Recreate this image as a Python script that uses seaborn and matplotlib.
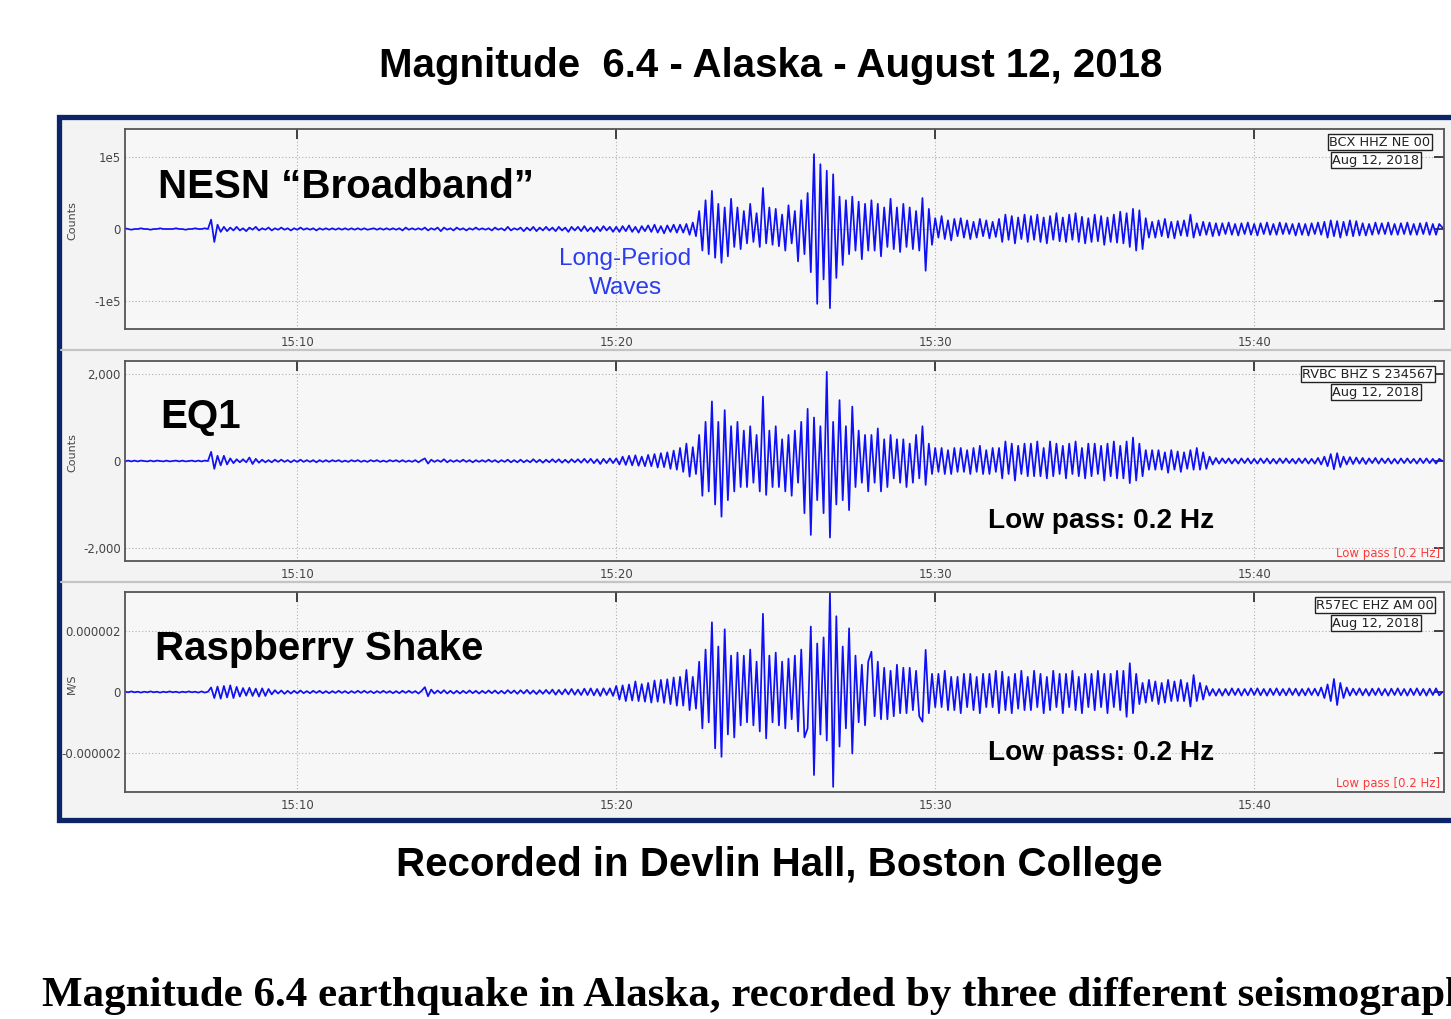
import numpy as np
import pandas as pd
import matplotlib
matplotlib.use("Agg")
import matplotlib.pyplot as plt
import seaborn as sns
from matplotlib.patches import Rectangle
from matplotlib.lines import Line2D
from matplotlib.transforms import Bbox, TransformedBbox

# ---------------- data ----------------
# samples every 0.1 min starting at 15:04.0, one row per minute
start_minute = 4.0
step_minute = 0.1

# NESN broadband, thousands of counts
nesn_kcounts = [
    0, 0, 0, 0, 0, 0, 1, 0, -1, 0,
    0, 1, 0, 0, -1, 0, 0, 1, 0, 0,
    0, 0, 1, 0, 0, -1, 0, 0, 1, 0,
    0, 1, 0, 13, -18, 6, -4, 3, -3, 2,
    -2, 3, -2, 1, -3, 2, -1, 3, -2, 1,
    -1, 2, -2, 1, -1, 2, -1, 1, -2, 1,
    -1, 2, -1, 1, -1, 1, -2, 1, -1, 1,
    -1, 1, -1, 1, -1, 1, -1, 1, -1, 1,
    -1, 1, -1, 0, 1, -1, 1, -1, 1, -1,
    1, -1, 1, -2, 2, -1, 1, -1, 1, -1,
    2, -2, 1, -1, 2, -3, 2, -1, 1, -2,
    2, -1, 1, -2, 1, -1, 2, -1, 1, -1,
    1, -2, 2, -1, 1, -2, 3, -2, 1, -1,
    2, -3, 2, -2, 3, -3, 2, -2, 3, -2,
    2, -3, 3, -2, 2, -4, 3, -2, 3, -3,
    4, -3, 2, -4, 3, -3, 4, -2, 3, -4,
    3, -4, 4, -3, 5, -4, 3, -5, 4, -3,
    5, -4, 6, -5, 4, -6, 5, -4, 6, -5,
    6, -5, 7, -8, 9, -10, 25, -30, 40, -35,
    53, -40, 35, -47, 30, -38, 42, -25, 30, -28,
    25, -20, 35, -18, 22, -25, 57, -20, 30, -22,
    28, -24, 20, -30, 33, -20, 25, -45, 40, -35,
    50, -60, 104, -104, 90, -70, 81, -110, 76, -68,
    45, -50, 40, -35, 45, -30, 38, -42, 35, -30,
    40, -30, 35, -38, 30, -25, 42, -28, 30, -32,
    35, -25, 30, -28, 25, -30, 43, -58, 28, -22,
    15, -12, 18, -14, 12, -16, 14, -10, 15, -12,
    12, -14, 10, -12, 14, -10, 12, -13, 10, -11,
    14, -18, 20, -15, 18, -20, 16, -14, 20, -18,
    18, -15, 20, -18, 16, -20, 18, -15, 22, -17,
    16, -18, 20, -15, 22, -18, 17, -20, 15, -18,
    20, -17, 18, -22, 16, -18, 20, -19, 24, -20,
    22, -25, 28, -30, 26, -28, 15, -12, 10, -12,
    12, -10, 14, -12, 10, -13, 11, -9, 12, -10,
    20, -12, 8, -9, 10, -8, 9, -10, 8, -9,
    8, -7, 9, -8, 7, -9, 8, -7, 9, -8,
    7, -9, 8, -7, 9, -8, 7, -8, 9, -7,
    8, -7, 7, -9, 8, -8, 7, -9, 8, -7,
    9, -8, 10, -12, 12, -10, 11, -12, 10, -9,
    12, -10, 11, -9, 8, -9, 7, -8, 9, -7,
    8, -7, 9, -8, 7, -8, 8, -7, 9, -8,
    7, -8, 8, -7, 9, -8, 7, -8, 7, 2,
]

# EQ1, hundreds of counts
eq1_hcounts = [
    0.0, 0.1, 0.0, -0.1, 0.1, 0.0, -0.1, 0.1, -0.1, 0.1,
    -0.1, 0.1, 0.0, -0.1, 0.1, -0.1, 0.1, 0.0, -0.1, 0.1,
    -0.1, 0.0, 0.1, -0.1, 0.1, -0.1, 0.0, 0.1, -0.1, 0.1,
    -0.1, 0.1, 0.0, 2.1, -1.8, 1.2, -1.0, 1.2, -0.8, 0.6,
    -0.5, 0.4, -0.3, 0.4, -0.3, 0.8, -0.7, 0.5, -0.4, 0.3,
    -0.3, 0.2, -0.3, 0.3, -0.2, 0.3, -0.2, 0.2, -0.3, 0.2,
    -0.2, 0.3, -0.2, 0.2, -0.2, 0.2, -0.3, 0.2, -0.2, 0.2,
    -0.2, 0.2, -0.1, 0.2, -0.2, 0.1, -0.2, 0.2, -0.1, 0.2,
    -0.2, 0.1, -0.2, 0.2, -0.1, 0.2, -0.2, 0.1, -0.2, 0.2,
    -0.1, 0.2, -0.2, 0.2, -0.2, 0.1, -0.2, 0.2, -0.3, 0.2,
    0.6, -0.6, 0.3, -0.2, 0.2, -0.2, 0.4, -0.3, 0.2, -0.2,
    0.2, -0.2, 0.3, -0.2, 0.2, -0.3, 0.2, -0.2, 0.2, -0.2,
    0.3, -0.2, 0.2, -0.3, 0.2, -0.2, 0.3, -0.3, 0.2, -0.3,
    0.3, -0.3, 0.2, -0.3, 0.4, -0.3, 0.3, -0.4, 0.3, -0.3,
    0.4, -0.3, 0.4, -0.4, 0.3, -0.4, 0.4, -0.3, 0.4, -0.4,
    0.5, -0.4, 0.5, -0.5, 0.4, -0.7, 0.5, -0.5, 0.6, -0.5,
    0.6, -0.8, 1.0, -0.9, 1.2, -1.0, 1.3, -1.1, 1.0, -1.2,
    1.4, -1.2, 1.6, -1.5, 1.8, -1.4, 2.0, -1.8, 2.4, -2.0,
    3.0, -2.5, 4.0, -3.6, 3.2, -3.0, 6.0, -8.0, 9.0, -7.0,
    13.7, -10.0, 9.0, -12.8, 11.7, -9.0, 8.0, -7.0, 9.0, -6.0,
    7.0, -6.0, 8.0, -5.0, 6.0, -7.0, 14.8, -7.8, 7.0, -6.0,
    8.0, -6.0, 5.0, -7.0, 6.0, -8.0, 7.0, -5.0, 9.0, -12.0,
    12.0, -17.0, 10.0, -9.0, 8.0, -12.0, 20.5, -17.6, 9.0, -10.0,
    14.0, -9.0, 8.0, -11.3, 12.5, -6.0, 7.0, -5.0, 6.0, -7.0,
    6.0, -5.0, 7.5, -7.0, 5.0, -6.0, 6.0, -4.0, 5.0, -5.0,
    5.0, -6.0, 4.0, -5.0, 6.0, -4.0, 8.0, -5.5, 4.0, -3.0,
    3.0, -2.5, 3.0, -3.0, 2.5, -3.0, 3.0, -2.5, 3.0, -2.5,
    2.5, -3.0, 3.0, -2.5, 3.5, -3.0, 2.5, -3.0, 3.0, -2.5,
    3.0, -4.0, 4.5, -3.0, 4.0, -4.5, 3.5, -3.0, 4.0, -3.5,
    4.0, -3.5, 4.5, -3.5, 3.0, -4.0, 4.5, -3.5, 4.0, -3.0,
    3.5, -4.0, 4.0, -3.0, 4.5, -3.5, 3.0, -4.0, 4.0, -3.5,
    4.0, -3.0, 3.5, -4.5, 4.0, -3.5, 4.5, -4.0, 3.5, -4.0,
    4.5, -5.1, 5.4, -4.5, 4.0, -3.5, 2.5, -2.0, 2.5, -2.0,
    2.5, -2.0, 2.0, -2.7, 2.5, -2.0, 2.2, -2.5, 2.0, -1.8,
    2.5, -2.0, 3.0, -2.0, 2.0, -1.8, 1.0, -0.8, 0.7, -0.6,
    0.6, -0.5, 0.6, -0.6, 0.5, -0.6, 0.6, -0.5, 0.6, -0.6,
    0.5, -0.6, 0.6, -0.5, 0.6, -0.6, 0.5, -0.6, 0.6, -0.5,
    0.6, -0.5, 0.5, -0.6, 0.6, -0.5, 0.6, -0.6, 0.5, -0.6,
    0.7, -0.8, 1.0, -1.2, 1.6, -1.9, 1.8, -1.4, 1.0, -0.8,
    0.9, -0.7, 0.8, -0.6, 0.7, -0.7, 0.6, -0.5, 0.7, -0.6,
    0.6, -0.5, 0.6, -0.6, 0.5, -0.6, 0.6, -0.5, 0.6, -0.5,
    0.5, -0.6, 0.6, -0.5, 0.6, -0.5, 0.5, -0.6, 0.5, 0.0,
]

# Raspberry Shake, 1e-7 m/s
shake_e7ms = [
    0.1, -0.1, 0.2, -0.1, 0.1, -0.2, 0.1, -0.1, 0.2, -0.1,
    0.1, -0.2, 0.1, -0.1, 0.2, -0.1, 0.1, -0.2, 0.1, -0.1,
    0.2, -0.1, 0.1, -0.2, 0.1, -0.1, 0.2, -0.1, 0.1, -0.2,
    0.2, -0.2, 0.1, 1.5, -2.0, 1.8, -2.2, 2.0, -1.8, 2.2,
    -2.0, 1.7, -1.5, 1.3, -1.2, 1.4, -1.3, 1.1, -1.5, 1.2,
    -1.3, 1.0, -0.8, 0.6, -0.5, 0.5, -0.6, 0.4, -0.5, 0.4,
    -0.4, 0.5, -0.4, 0.3, -0.4, 0.4, -0.3, 0.4, -0.4, 0.3,
    -0.4, 0.3, -0.3, 0.4, -0.3, 0.3, -0.4, 0.3, -0.3, 0.4,
    -0.3, 0.4, -0.3, 0.3, -0.4, 0.3, -0.3, 0.4, -0.3, 0.3,
    -0.4, 0.3, -0.4, 0.4, -0.3, 0.4, -0.3, 0.3, -0.5, 0.4,
    1.6, -1.4, 0.8, -0.5, 0.5, -0.4, 0.6, -0.5, 0.4, -0.5,
    0.4, -0.5, 0.4, -0.4, 0.5, -0.4, 0.4, -0.5, 0.4, -0.4,
    0.5, -0.4, 0.5, -0.5, 0.4, -0.5, 0.6, -0.4, 0.5, -0.6,
    0.6, -0.5, 0.7, -0.6, 0.5, -0.7, 0.6, -0.6, 0.7, -0.6,
    0.8, -0.9, 0.7, -0.8, 0.9, -0.8, 1.0, -0.9, 0.8, -1.0,
    1.1, -1.0, 1.2, -1.1, 1.0, -1.3, 1.2, -1.0, 1.2, -1.3,
    2.0, -2.5, 2.2, -3.0, 2.5, -2.8, 3.5, -3.0, 2.6, -3.2,
    3.0, -3.5, 3.8, -3.2, 4.0, -3.6, 4.2, -4.0, 4.8, -4.5,
    5.0, -4.5, 7.3, -6.0, 5.0, -5.5, 10.0, -12.0, 14.0, -10.0,
    23.0, -18.6, 15.0, -21.4, 20.7, -14.0, 12.0, -15.0, 13.0, -11.0,
    12.0, -10.0, 14.0, -11.0, 10.0, -13.0, 25.8, -15.3, 12.0, -10.0,
    13.0, -11.0, 10.0, -12.0, 11.0, -9.0, 12.0, -13.0, 14.0, -15.0,
    -12.0, 21.6, -27.4, 16.0, -14.0, 18.0, -16.0, 33.0, -31.3, 25.0,
    -18.0, 15.0, -12.0, 21.0, -20.3, 12.0, -10.0, 9.0, -11.0, 10.0,
    13.3, -8.0, 10.0, -9.0, 8.0, -9.0, 7.0, -8.0, 9.0, -7.0,
    8.0, -7.0, 8.0, -6.0, 7.0, -8.0, -9.8, 13.9, -7.0, 6.0,
    -5.0, 6.0, -5.0, 7.0, -6.0, 5.0, -6.0, 5.0, -7.0, 6.0,
    -5.0, 6.0, -6.0, 5.0, -7.0, 6.0, -5.0, 6.0, -5.0, 7.0,
    -7.0, 6.7, -6.0, 5.0, -7.0, 6.0, -5.5, 7.0, -6.0, 5.0,
    -6.0, 7.0, -5.0, 6.0, -7.0, 5.0, -6.0, 7.0, -5.0, 6.0,
    -7.0, 6.0, -5.0, 7.0, -6.0, 5.0, -7.0, 6.0, -5.0, 6.0,
    -6.0, 7.0, -5.0, 6.0, -7.0, 6.0, -5.0, 7.0, -6.0, 7.0,
    -8.2, 9.5, -7.0, 6.0, -4.0, 3.0, -3.5, 4.0, -3.0, 3.5,
    -4.0, 3.0, -3.5, 4.0, -3.0, 3.5, -3.0, 4.0, -3.0, 3.0,
    -4.8, 5.6, -3.0, 3.0, -2.5, 2.0, -1.2, 1.0, -1.2, 1.0,
    -1.2, 1.0, -1.1, 1.2, -1.0, 1.1, -1.2, 1.0, -1.1, 1.2,
    -1.0, 1.2, -1.1, 1.0, -1.2, 1.1, -1.0, 1.2, -1.1, 1.0,
    -1.1, 1.2, -1.0, 1.1, -1.2, 1.0, -1.1, 1.2, -1.0, 1.1,
    -1.2, 1.5, -2.0, 2.5, -3.0, 4.3, -4.3, 3.0, -2.0, 1.5,
    -1.2, 1.1, -1.0, 1.2, -1.1, 1.0, -1.2, 1.1, -1.0, 1.2,
    -1.1, 1.0, -1.2, 1.1, -1.0, 1.2, -1.1, 1.0, -1.2, 1.1,
    -1.0, 1.2, -1.1, 1.0, -1.2, 1.1, -1.0, 1.2, -1.1, 0.0,
]

x_ticks = [10, 20, 30, 40]
x_tick_labels = ["15:10", "15:20", "15:30", "15:40"]

stations = ["NESN \u201cBroadband\u201d", "EQ1", "Raspberry Shake"]
station_codes = ["BCX HHZ NE 00", "RVBC BHZ S 234567", "R57EC EHZ AM 00"]
unit_labels = ["Counts", "Counts", "M/S"]
y_ticks = [[-1e5, 0, 1e5], [-2000, 0, 2000], [-2e-6, 0, 2e-6]]
y_tick_labels = [["-1e5", "0", "1e5"], ["-2,000", "0", "2,000"],
                 ["-0.000002", "0", "0.000002"]]
y_limits = [1.39e5, 2300, 3.3e-6]
scales = [1000.0, 100.0, 1e-7]
traces = [nesn_kcounts, eq1_hcounts, shake_e7ms]

# ---------------- figure ----------------
sns.set_theme(style="white")
plt.rcParams["font.family"] = ["Liberation Sans", "DejaVu Sans"]

W, H = 1451, 1019
fig = plt.figure(figsize=(W / 100, H / 100), dpi=100)
fig.patch.set_facecolor("white")


def fx(x):
    return x / W


def fy(y):
    return 1 - y / H


# framed background
fig.patches.append(Rectangle((fx(58.5), fy(820)), fx(1500 - 58.5), (820 - 116.5) / H,
                             transform=fig.transFigure, facecolor="#f3f3f3",
                             edgecolor="#0c2468", linewidth=3.8, zorder=-5))
for ysep in [350, 582]:
    fig.lines.append(Line2D([fx(61), fx(1451)], [fy(ysep), fy(ysep)],
                            transform=fig.transFigure, color="#c4c4c4",
                            linewidth=1.6, zorder=-4))

axes_tops = [129, 361, 592]
ax_h = 200
code_box_x = [1380, 1368, 1375]
clip_bbox = TransformedBbox(Bbox([[fx(62), 0], [1, 1]]), fig.transFigure)

for i in range(3):
    top = axes_tops[i]
    ax = fig.add_axes([fx(125), fy(top + ax_h), (1444 - 125) / W, ax_h / H])
    ax.set_zorder(2)
    ax.set_facecolor("#f7f7f7")
    vals = np.array(traces[i], dtype=float) * scales[i]
    t = start_minute + step_minute * np.arange(len(vals))
    df = pd.DataFrame({"time": t, "value": vals})
    sns.lineplot(data=df, x="time", y="value", ax=ax, color="#1010f5",
                 linewidth=1.25, estimator=None, sort=False)
    ax.set_xlim(4.6, 45.95)
    ax.set_ylim(-y_limits[i], y_limits[i])
    ax.set_xticks(x_ticks)
    ax.set_xticklabels(x_tick_labels)
    ax.set_yticks(y_ticks[i])
    ax.set_yticklabels(y_tick_labels[i])
    ax.set_xlabel("")
    ax.set_ylabel("")
    ax.grid(True, linestyle=(0, (1, 2)), color="#b0b0b0", linewidth=0.8)
    ax.set_axisbelow(True)
    ax.tick_params(direction="in", length=7, width=1.3, color="#333333",
                   top=True, right=True, labelsize=8.5, labelcolor="#444444")
    ax.tick_params(axis="x", pad=5)
    ax.tick_params(axis="y", pad=3)
    for lab in ax.get_xticklabels() + ax.get_yticklabels():
        lab.set_family("DejaVu Sans")
    for lab in ax.get_yticklabels():
        lab.set_clip_on(True)
        lab.set_clip_box(clip_bbox)
    for sp in ax.spines.values():
        sp.set_color("#555555")
        sp.set_linewidth(1.3)

    # station code boxes
    ax.text((code_box_x[i] - 125) / 1319, 0.933, station_codes[i],
            transform=ax.transAxes, ha="center", va="center", fontsize=9.3,
            family="DejaVu Sans", color="#222222",
            bbox=dict(boxstyle="square,pad=0.12", fc="white", ec="#222222", lw=1.0))
    ax.text((1376 - 125) / 1319, 0.843, "Aug 12, 2018", transform=ax.transAxes,
            ha="center", va="center", fontsize=9.3, family="DejaVu Sans",
            color="#222222",
            bbox=dict(boxstyle="square,pad=0.12", fc="white", ec="#222222", lw=1.0))
    if i > 0:
        ax.text(0.997, 0.04, "Low pass [0.2 Hz]", transform=ax.transAxes,
                ha="right", va="center", fontsize=8.5, family="DejaVu Sans",
                color="#ff3b3b")

    fig.text(fx(72), fy(top + 92), unit_labels[i], rotation=90, ha="center",
             va="center", fontsize=8, family="DejaVu Sans", color="#444444")

# large station names
big = dict(fontsize=29, fontweight="bold", ha="left", va="baseline",
           color="black", zorder=5)
fig.text(fx(158), fy(198), stations[0], **big)
fig.text(fx(160), fy(428), stations[1], **big)
fig.text(fx(155), fy(660), stations[2], **big)

fig.text(fx(625), fy(259), "Long-Period", fontsize=17.5, ha="center",
         va="center", color="#2a3cf0", zorder=5)
fig.text(fx(625), fy(288), "Waves", fontsize=17.5, ha="center",
         va="center", color="#2a3cf0", zorder=5)

fig.text(fx(988), fy(521), "Low pass: 0.2 Hz", fontsize=20.2, fontweight="bold",
         ha="left", va="center", color="black", zorder=5)
fig.text(fx(988), fy(753), "Low pass: 0.2 Hz", fontsize=20.2, fontweight="bold",
         ha="left", va="center", color="black", zorder=5)

fig.text(fx(771), fy(66), "Magnitude  6.4 - Alaska - August 12, 2018",
         fontsize=29, fontweight="bold", ha="center", va="center", color="black")
fig.text(fx(779), fy(865), "Recorded in Devlin Hall, Boston College",
         fontsize=29, fontweight="bold", ha="center", va="center", color="black")
fig.text(fx(42), fy(996),
         "Magnitude 6.4 earthquake in Alaska, recorded by three different seismographs",
         fontsize=31, fontweight="bold", ha="left", va="center", color="black",
         family=["Liberation Serif", "DejaVu Serif"])

fig.savefig("out.png", dpi=100)
